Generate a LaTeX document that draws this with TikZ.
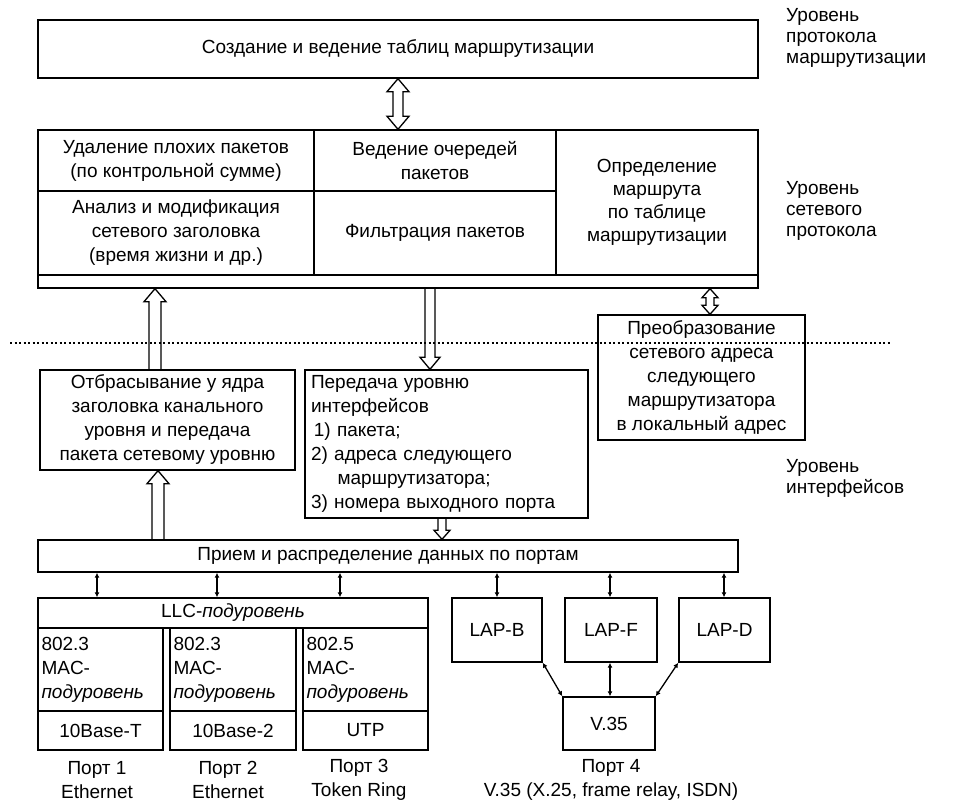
\documentclass[tikz,border=0pt]{standalone}
\usepackage{fontspec}
\setmainfont{Liberation Sans}
\usetikzlibrary{calc,arrows.meta}
\newcommand{\mainfs}{\fontsize{19}{24}\selectfont}
\newcommand{\labfs}{\fontsize{19}{21}\selectfont}
% hollow arrows: tail, tip, shaft half width, head half width, head length
\newcommand{\hollowUp}[5]{\draw[hollow] ($(#1)+(-#3,0)$) -- ($(#2)+(-#3,#5)$) -- ($(#2)+(-#4,#5)$) -- (#2) -- ($(#2)+(#4,#5)$) -- ($(#2)+(#3,#5)$) -- ($(#1)+(#3,0)$);}
\newcommand{\hollowDown}[5]{\draw[hollow] ($(#1)+(-#3,0)$) -- ($(#2)+(-#3,-#5)$) -- ($(#2)+(-#4,-#5)$) -- (#2) -- ($(#2)+(#4,-#5)$) -- ($(#2)+(#3,-#5)$) -- ($(#1)+(#3,0)$);}
\newcommand{\hollowBoth}[5]{\draw[hollow] (#1) -- ($(#1)+(#4,#5)$) -- ($(#1)+(#3,#5)$) -- ($(#2)+(#3,-#5)$) -- ($(#2)+(#4,-#5)$) -- (#2) -- ($(#2)+(-#4,-#5)$) -- ($(#2)+(-#3,-#5)$) -- ($(#1)+(-#3,#5)$) -- ($(#1)+(-#4,#5)$) -- cycle;}
\begin{document}
\begin{tikzpicture}[x=1pt,y=-1pt,
  box/.style={draw, line width=1.4pt, inner sep=0pt, align=center, font=\mainfs},
  lbox/.style={box, align=left},
  lbl/.style={inner sep=0pt, align=center, font=\mainfs},
  rlbl/.style={inner sep=0pt, align=left, anchor=west, font=\labfs},
  hollow/.style={line width=1.3pt, line join=miter},
  thinarr/.style={line width=1.3pt, {Latex[length=5pt,width=5pt]}-{Latex[length=5pt,width=5pt]}},
  divider/.style={line width=1.3pt, dash pattern=on 2pt off 2.5pt}]
\useasboundingbox (0,0) rectangle (974,802);

% routing protocol level
\node[box, minimum width=720pt, minimum height=58pt] (top) at (398,49) {Создание и ведение таблиц маршрутизации};

% network protocol level table
\node[box, minimum width=720pt, minimum height=158pt] (tbl) at (398,209) {};
\node[box, minimum width=276pt, minimum height=61pt] (c11) at (176,160.5) {Удаление плохих пакетов\\(по контрольной сумме)};
\node[box, minimum width=242pt, minimum height=61pt] (c12) at (435,160.5) {Ведение очередей\\пакетов};
\node[box, minimum width=276pt, minimum height=84pt] (c21) at (176,233) {Анализ и модификация\\сетевого заголовка\\(время жизни и др.)};
\node[box, minimum width=242pt, minimum height=84pt] (c22) at (435,233) {Фильтрация пакетов};
\node[box, minimum width=202pt, minimum height=145pt, font=\fontsize{19}{23}\selectfont] (c3) at (657,202.5) {Определение\\маршрута\\по таблице\\маршрутизации};

% interface level
\node[box, minimum width=255pt, minimum height=100pt] (otb) at (167.5,420) {Отбрасывание у ядра\\заголовка канального\\уровня и передача\\пакета сетевому уровню};
\node[lbox, minimum width=283pt, minimum height=148pt, text width=271pt] (per) at (446.5,444) {Передача уровню\\интерфейсов\\\hspace*{0.15em}1) пакета;\\2) адреса следующего\\\hspace*{1.4em}маршрутизатора;\\3) номера выходного порта};
\node[box, minimum width=207pt, minimum height=125pt] (pre) at (701.5,377.5) {Преобразование\\сетевого адреса\\следующего\\маршрутизатора\\в локальный адрес};
\node[box, minimum width=700pt, minimum height=32pt] (prm) at (388,556) {Прием и распределение данных по портам};

\node[box, minimum width=390pt, minimum height=30pt] (llc) at (233,613) {LLC-\textit{подуровень}};
\node[lbox, minimum width=125pt, minimum height=83pt, text width=118pt] (m1) at (100.5,669.5) {802.3\\MAC-\\\textit{подуровень}};
\node[lbox, minimum width=126pt, minimum height=83pt, text width=119pt] (m2) at (233,669.5) {802.3\\MAC-\\\textit{подуровень}};
\node[lbox, minimum width=125pt, minimum height=83pt, text width=118pt] (m3) at (365.5,669.5) {802.5\\MAC-\\\textit{подуровень}};
\node[box, minimum width=125pt, minimum height=39pt] (p1) at (100.5,730.5) {10Base-T};
\node[box, minimum width=126pt, minimum height=39pt] (p2) at (233,730.5) {10Base-2};
\node[box, minimum width=125pt, minimum height=39pt] (p3) at (365.5,730.5) {UTP};

\node[box, minimum width=90pt, minimum height=64pt] (lapb) at (497,630) {LAP-B};
\node[box, minimum width=92pt, minimum height=64pt] (lapf) at (611,630) {LAP-F};
\node[box, minimum width=91pt, minimum height=64pt] (lapd) at (724.5,630) {LAP-D};
\node[box, minimum width=92pt, minimum height=53pt] (v35) at (609,723.5) {V.35};

% port captions
\node[lbl] (port1) at (97,780) {Порт 1\\Ethernet};
\node[lbl] (port2) at (228,780) {Порт 2\\Ethernet};
\node[lbl] (port3) at (359,780) {Порт 3\\Token Ring};
\node[lbl] (port4) at (611,780) {Порт 4\\V.35 (X.25, frame relay, ISDN)};

% level captions
\node[rlbl] (lev1) at (786,37.5) {Уровень\\протокола\\маршрутизации};
\node[rlbl] (lev2) at (786,211) {Уровень\\сетевого\\протокола};
\node[rlbl] (lev3) at (786,478.5) {Уровень\\интерфейсов};

% divider between levels
\coordinate (dl) at (10,343);
\coordinate (dr) at (890,343);
\draw[divider] (dl) -- (dr);

% x positions of connectors
\coordinate (x155) at (155,0);
\coordinate (x158) at (158,0);
\coordinate (x430) at (430,0);
\coordinate (x442) at (442,0);
\coordinate (x710) at (710,0);
\coordinate (xa) at (97,0);
\coordinate (xb) at (217,0);
\coordinate (xc) at (340,0);
\coordinate (xd) at (497,0);
\coordinate (xe) at (610,0);
\coordinate (xf) at (724,0);

% hollow arrows
\hollowBoth{top.south}{tbl.north}{5}{11}{13}
\coordinate (h1a) at (otb.north -| x155);
\coordinate (h1b) at (tbl.south -| x155);
\hollowUp{h1a}{h1b}{6}{11}{13}
\coordinate (h2a) at (tbl.south -| x430);
\coordinate (h2b) at (per.north -| x430);
\hollowDown{h2a}{h2b}{5}{10}{12}
\coordinate (h3a) at (prm.north -| x158);
\coordinate (h3b) at (otb.south -| x158);
\hollowUp{h3a}{h3b}{6}{11}{13}
\coordinate (h4a) at (per.south -| x442);
\coordinate (h4b) at (prm.north -| x442);
\hollowDown{h4a}{h4b}{4}{8}{9}
\coordinate (h5a) at (tbl.south -| x710);
\coordinate (h5b) at (pre.north -| x710);
\hollowBoth{h5a}{h5b}{4}{8}{9}

% thin double arrows
\draw[thinarr] (prm.south -| xa) -- (llc.north -| xa);
\draw[thinarr] (prm.south -| xb) -- (llc.north -| xb);
\draw[thinarr] (prm.south -| xc) -- (llc.north -| xc);
\draw[thinarr] (prm.south -| xd) -- (lapb.north -| xd);
\draw[thinarr] (prm.south -| xe) -- (lapf.north -| xe);
\draw[thinarr] (prm.south -| xf) -- (lapd.north -| xf);
\draw[thinarr] (lapb.south east) -- (v35.north west);
\draw[thinarr] (lapf.south -| xe) -- (v35.north -| xe);
\draw[thinarr] (lapd.south west) -- (v35.north east);
\end{tikzpicture}
\end{document}
